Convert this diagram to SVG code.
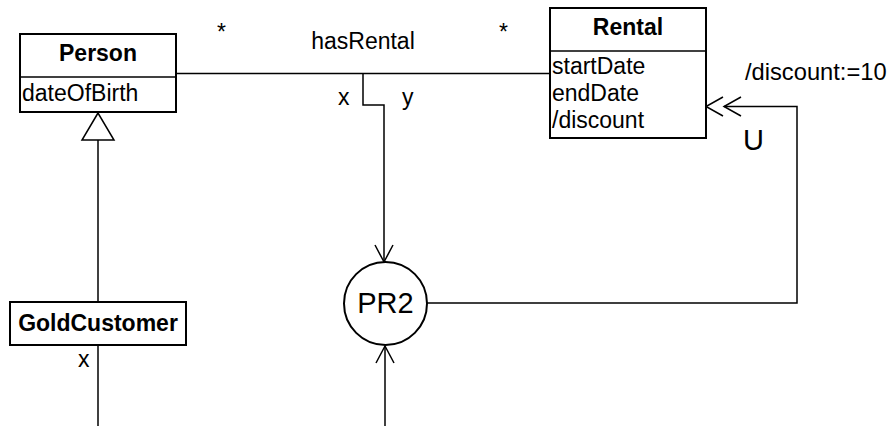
<svg xmlns="http://www.w3.org/2000/svg" width="891" height="426" viewBox="0 0 891 426">
<style>
text{font-family:"Liberation Sans",Arial,sans-serif;font-size:23px;fill:#000}
.b{font-weight:bold}
.m{text-anchor:middle}
.box{fill:#fff;stroke:#000;stroke-width:2}
.ln{fill:none;stroke:#000;stroke-width:1.5}
.big{font-size:29px}
</style>
<rect width="891" height="426" fill="#fff"/>
<g id="connectors">
<path class="ln" d="M176,73.5 H550"/>
<path class="ln" d="M363,73.5 V105 H384 V262"/>
<path class="ln" d="M375,245 L384,262 L393,245"/>
<path class="ln" d="M385,426 V346"/>
<path class="ln" d="M376,363 L385,346 L394,363"/>
<path class="ln" d="M427,303 H797 V106.5 H724"/>
<path class="ln" d="M723,97 L706,106.5 L723,116 M741,97 L724,106.5 L741,116"/>
<path class="ln" d="M98,140 V302"/>
<polygon class="ln" points="98,113 82,140 114,140" fill="#fff"/>
<path class="ln" d="M98,345 V426"/>
<text x="217" y="40">*</text>
<text x="363" y="49" class="m">hasRental</text>
<text x="499" y="40">*</text>
<text x="338" y="105">x</text>
<text x="402" y="105">y</text>
<text x="745" y="80" style="font-size:23.7px">/discount:=10</text>
<text x="743" y="150" class="big">U</text>
<text x="78" y="367">x</text>
</g>
<g id="person">
<rect class="box" x="20" y="34" width="156" height="78"/>
<line class="ln" x1="20" y1="77" x2="176" y2="77" stroke-width="2"/>
<text x="98" y="61" class="b m">Person</text>
<text x="22" y="101">dateOfBirth</text>
</g>
<g id="rental">
<rect class="box" x="550" y="8" width="156" height="130"/>
<line class="ln" x1="550" y1="51" x2="706" y2="51" stroke-width="2"/>
<text x="628" y="35" class="b m">Rental</text>
<text x="552" y="74">startDate</text>
<text x="552" y="101">endDate</text>
<text x="552" y="128">/discount</text>
</g>
<g id="goldcustomer">
<rect class="box" x="10" y="302" width="176" height="43"/>
<text x="98" y="331" class="b m">GoldCustomer</text>
</g>
<g id="pr2">
<circle cx="385.5" cy="303.5" r="41.5" fill="#fff" stroke="#000" stroke-width="2"/>
<text x="385.5" y="313" class="big m">PR2</text>
</g>
</svg>
